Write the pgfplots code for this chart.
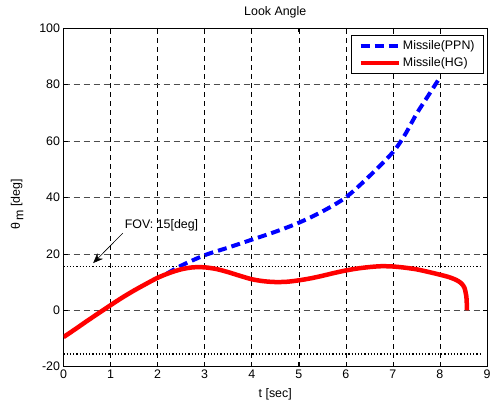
\documentclass[border=0pt]{standalone}
\usepackage{pgfplots}
\pgfplotsset{compat=1.18}
\usepackage{fontspec}
\setmainfont{Liberation Sans}
\usetikzlibrary{arrows.meta,calc}
\begin{document}
\begin{tikzpicture}[font=\fontsize{12.4bp}{14bp}\selectfont]
\begin{axis}[
 name=ax, scale only axis, width=423.5bp, height=338.7bp,
 xmin=0, xmax=9, ymin=-20, ymax=100,
 xtick={0,1,...,9}, ytick={-20,0,20,40,60,80,100},
 grid=major,
 x grid style={black, dash pattern=on 5bp off 4bp, line width=0.5bp},
 y grid style={black!70, dash pattern=on 6bp off 4bp, line width=0.6bp},
 tick align=inside, major tick length=4.5bp,
 tick style={black, line width=0.6bp},
 axis line style={black, line width=0.8bp},
 /pgf/number format/assume math mode=true,
 title={Look Angle},
 xlabel={t [sec]},
 xlabel style={yshift=-3bp},
 ylabel={θ\,\raisebox{-3.5bp}{m} [deg]},
 ylabel style={at={(axis description cs:-0.0862,0.48)}, anchor=south},
 legend style={at={(1,1)}, anchor=north east, xshift=-3bp, yshift=-7bp,
   draw=black, line width=0.8bp, fill=white, inner xsep=7bp, inner ysep=3bp,
   row sep=3bp, font=\fontsize{12.4bp}{14bp}\selectfont},
 legend cell align=left,
 legend image code/.code={\draw[#1] (0bp,0bp) -- (38bp,0bp);},
]
\addplot[forget plot, black, line width=1.2bp, dash pattern=on 1.2bp off 2bp] coordinates {(0,15.5) (8.9,15.5)};
\addplot[forget plot, black, line width=1.2bp, dash pattern=on 1.2bp off 2bp] coordinates {(0,-15.5) (8.9,-15.5)};
\addplot[color=blue, line width=4bp, dash pattern=on 9bp off 5bp, smooth] coordinates {
(2.2,13.0) (2.5,15.8) (3,19.5) (3.5,22.2) (4,25) (4.5,27.8) (5,31) (5.5,35)
(6,40) (6.5,47.5) (7,56) (7.25,62) (7.5,69.5) (7.75,76) (8,82.5)};
\addlegendentry{Missile(PPN)}
\addplot[color=red, line width=4.5bp, smooth] coordinates {
(0,-9.5) (0.25,-6.7) (0.5,-3.8) (0.75,-1) (1,1.8) (1.25,4.5) (1.5,7) (1.75,9.3)
(2,11.5) (2.25,13.2) (2.5,14.5) (2.75,15.2) (3,15.2) (3.25,14.6) (3.5,13.5)
(3.75,12.2) (4,11) (4.25,10.3) (4.5,10) (4.75,10.1) (5,10.6) (5.25,11.3)
(5.5,12.2) (5.75,13.2) (6,14.1) (6.25,14.8) (6.5,15.3) (6.75,15.6) (7,15.5)
(7.25,15.1) (7.5,14.5) (7.75,13.6) (8,12.6) (8.2,11.7) (8.35,10.7) (8.45,9.6)
(8.52,8) (8.56,5) (8.57,2.5) (8.57,0)};
\addlegendentry{Missile(HG)}
\node[anchor=west, inner sep=0pt] at (axis cs:1.3,30.1) {FOV: 15[deg]};
\draw[black, line width=0.6bp, -{Stealth[length=10bp,width=8bp]}] (axis cs:1.26,27.3) -- (axis cs:0.63,16.7);
\end{axis}
\pgfresetboundingbox
\path[use as bounding box] ($(ax.south west)+(-63.5bp,-36.3bp)$) rectangle ($(ax.north east)+(4bp,28bp)$);
\end{tikzpicture}
\end{document}
